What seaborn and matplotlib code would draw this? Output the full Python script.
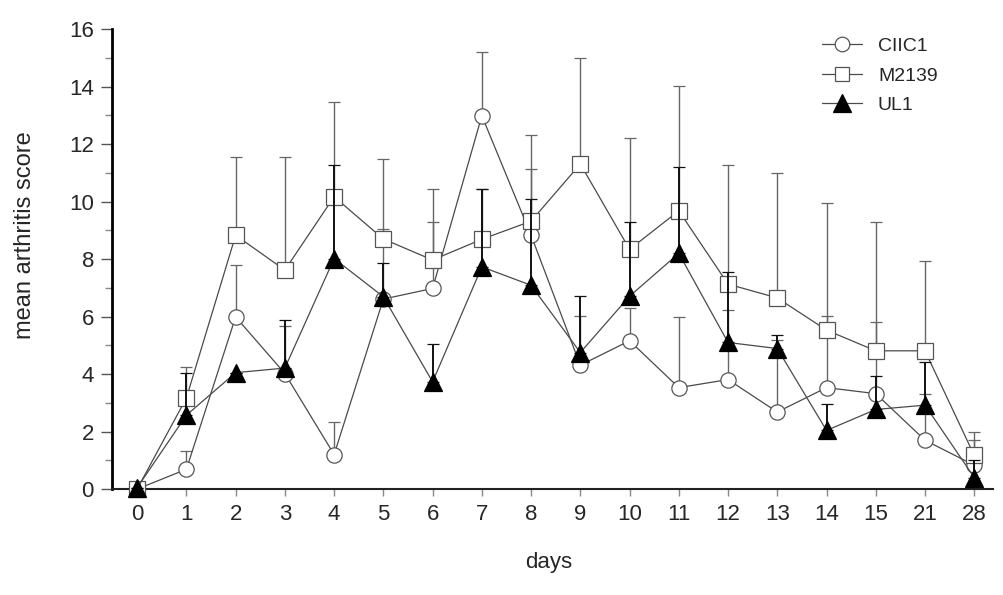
import numpy as np
import pandas as pd
import matplotlib
matplotlib.use("Agg")
import matplotlib.pyplot as plt
import seaborn as sns
from matplotlib.ticker import MultipleLocator
from matplotlib.lines import Line2D

days = ["0", "1", "2", "3", "4", "5", "6", "7", "8", "9", "10", "11", "12", "13", "14", "15", "21", "28"]

ciic1_mean = [0.0, 0.69, 5.99, 4.02, 1.20, 6.61, 6.98, 12.99, 8.83, 4.31, 5.16, 3.53, 3.81, 2.68, 3.53, 3.32, 1.70, 0.83]
ciic1_upper = [0.0, 1.32, 7.79, 5.68, 2.33, 9.06, 9.30, 15.22, 11.12, 6.02, 6.30, 5.97, 6.22, 5.20, 6.02, 5.82, 3.32, 1.72]

m2139_mean = [0.0, 3.17, 8.83, 7.62, 10.17, 8.70, 7.97, 8.69, 9.32, 11.31, 8.34, 9.68, 7.13, 6.65, 5.53, 4.81, 4.81, 1.17]
m2139_upper = [0.0, 4.25, 11.54, 11.54, 13.46, 11.47, 10.43, 10.43, 12.32, 15.01, 12.20, 14.03, 11.27, 10.98, 9.94, 9.30, 7.94, 1.99]

ul1_mean = [0.05, 2.57, 4.05, 4.21, 8.02, 6.69, 3.73, 7.73, 7.09, 4.75, 6.71, 8.20, 5.10, 4.89, 2.04, 2.77, 2.92, 0.40]
ul1_upper = [0.05, 4.05, 4.05, 5.88, 11.27, 7.87, 5.04, 10.43, 10.08, 6.72, 9.30, 11.19, 7.56, 5.35, 2.97, 3.93, 4.42, 1.00]

series = [
    ("CIIC1", ciic1_mean, ciic1_upper, "o", "white", "#555555", 11),
    ("M2139", m2139_mean, m2139_upper, "s", "white", "#555555", 11),
    ("UL1", ul1_mean, ul1_upper, "^", "black", "black", 13),
]

sns.set_style("ticks")
plt.rcParams["font.family"] = ["Liberation Sans", "DejaVu Sans"]

fig = plt.figure(figsize=(10.04, 5.95), dpi=100)
ax = fig.add_axes([0.1116, 0.178, 0.8774, 0.773])

pos = np.arange(len(days))
line_color = "#4a4a4a"
z = 3
for name, mean, upper, mk, fc, ec, ms in series:
    mean = np.array(mean)
    upper = np.array(upper)
    err_col = "#111111" if name == "UL1" else "#666666"
    ax.errorbar(pos, mean, yerr=[np.zeros_like(mean), upper - mean], fmt="none",
                ecolor=err_col, elinewidth=1.0 if name != "UL1" else 1.4,
                capsize=4, capthick=0.9, zorder=z, clip_on=False)
    df = pd.DataFrame({"x": pos, "y": mean})
    sns.lineplot(data=df, x="x", y="y", ax=ax, color=line_color, linewidth=0.9,
                 marker=mk, markersize=ms, markerfacecolor=fc, markeredgecolor=ec,
                 markeredgewidth=0.9, zorder=z + 0.5, clip_on=False)
    z += 1

ax.set_xlim(-0.51, 17.38)
ax.set_ylim(0, 16)
ax.set_xticks(pos)
ax.set_xticklabels(days, fontsize=16)
ax.yaxis.set_major_locator(MultipleLocator(2))
ax.yaxis.set_minor_locator(MultipleLocator(1))
ax.tick_params(axis="y", which="major", length=8, width=1, color="#555555", labelsize=16, pad=5)
ax.tick_params(axis="y", which="minor", length=5, width=1, color="#888888")
ax.tick_params(axis="x", which="major", length=5, width=1, color="#888888", labelsize=16, pad=6)
ax.set_xlabel("days", fontsize=16)
ax.set_ylabel("mean arthritis score", fontsize=17)
ax.xaxis.set_label_coords(0.496, -0.137)
ax.yaxis.set_label_coords(-0.086, 0.553)

sns.despine(ax=ax)
ax.spines["left"].set_linewidth(2.0)
ax.spines["left"].set_color("black")
ax.spines["bottom"].set_linewidth(1.5)
ax.spines["bottom"].set_color("#222222")

handles = []
for name, mean, upper, mk, fc, ec, ms in series:
    handles.append(Line2D([0], [0], color=line_color, linewidth=0.9, marker=mk,
                          markersize=ms - 0.5, markerfacecolor=fc, markeredgecolor=ec,
                          markeredgewidth=0.9, label=name))
leg = ax.legend(handles=handles, loc="upper left", bbox_to_anchor=(0.79, 1.012),
                frameon=False, fontsize=14, handlelength=2.1, handletextpad=0.8,
                labelspacing=0.62, borderaxespad=0.3)

fig.savefig("out.png", dpi=100)
